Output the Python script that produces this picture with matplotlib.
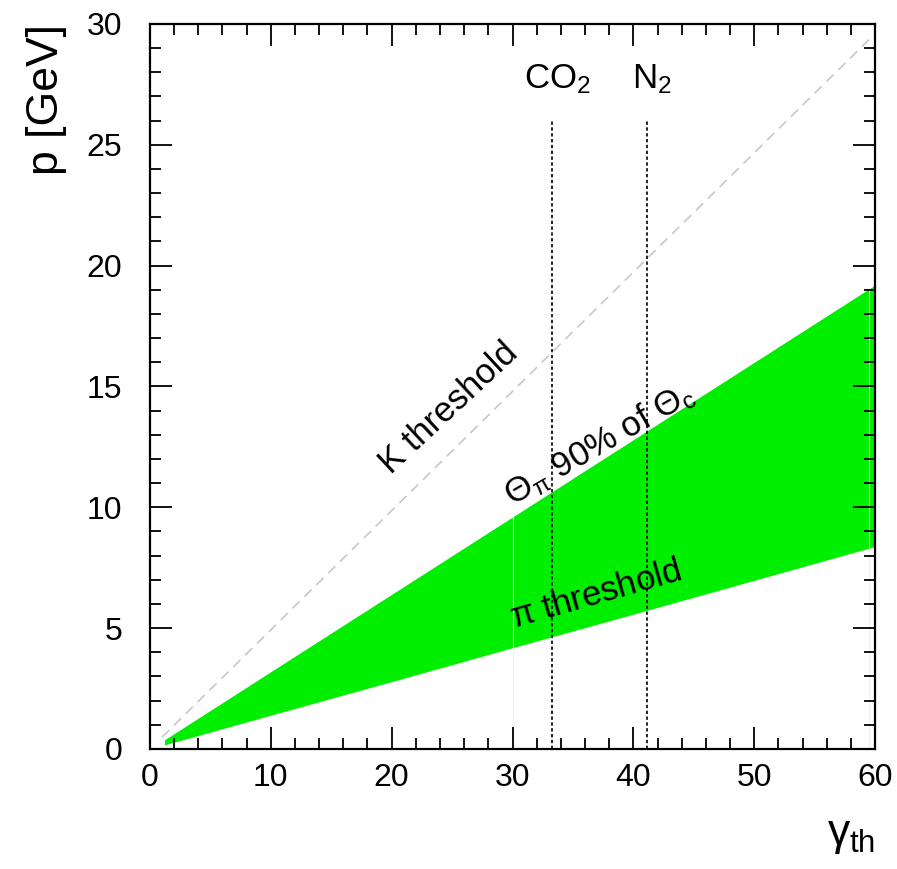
import numpy as np
import matplotlib.pyplot as plt
from matplotlib.ticker import MultipleLocator

plt.rcParams['font.family'] = ['Liberation Sans', 'DejaVu Sans']
plt.rcParams['mathtext.fontset'] = 'custom'
plt.rcParams['mathtext.rm'] = 'Liberation Sans'
plt.rcParams['mathtext.it'] = 'Liberation Sans'

# --- values ---
gamma = [1.2, 10, 20, 30, 40, 50, 60]
p_pi_thr = [0.17, 1.40, 2.79, 4.19, 5.58, 6.98, 8.38]      # lower edge of band
p_theta90 = [0.38, 3.20, 6.40, 9.60, 12.80, 16.00, 19.20]  # upper edge of band
gamma_k = [1.0, 60]
p_k_thr = [0.49, 29.6]
gas_names = ['CO$_2$', 'N$_2$']
gas_gamma = [33.3, 41.1]
gas_top = 26.0

fig = plt.figure(figsize=(8.97, 8.69), dpi=100)
ax = fig.add_axes([0.1672, 0.1381, 0.8083, 0.8343])

ax.fill_between(gamma, p_pi_thr, p_theta90, color='#00ee00', lw=0, zorder=1)
# faint seams in the band
for g in [30, 59.5]:
    ax.plot([g, g], [0, np.interp(g, gamma, p_theta90)], color='#e6f8e6', lw=0.8, zorder=1.5)

ax.plot(gamma_k, p_k_thr, color='#c8c8c8', ls=(0, (6, 4)), lw=1.2, zorder=2)

for name, g in zip(gas_names, gas_gamma):
    ax.plot([g, g], [0, gas_top], color='black', ls=(0, (2, 1.5)), lw=1.2, zorder=3)
    ax.text(g + 0.4, 27.0, name, fontsize=25, ha='center', va='bottom')

ax.text(24.7, 14.1, 'K threshold', fontsize=25, rotation=43,
        ha='center', va='center', rotation_mode='anchor')
ax.text(37.2, 12.6, r'$\Theta_{\pi}$ 90% of $\Theta_{\rm c}$', fontsize=25, rotation=30,
        ha='center', va='center', rotation_mode='anchor')
ax.text(36.9, 6.4, r'$\pi$ threshold', fontsize=25, rotation=16,
        ha='center', va='center', rotation_mode='anchor')

ax.set_xlim(0, 60)
ax.set_ylim(0, 30)
ax.xaxis.set_major_locator(MultipleLocator(10))
ax.xaxis.set_minor_locator(MultipleLocator(2))
ax.yaxis.set_major_locator(MultipleLocator(5))
ax.yaxis.set_minor_locator(MultipleLocator(1))
ax.tick_params(which='both', direction='in', top=True, right=True, width=1.3,
               labelsize=23)
ax.tick_params(axis='x', pad=10)
ax.tick_params(axis='y', pad=20)
ax.tick_params(which='major', length=16)
ax.tick_params(which='minor', length=8)
for s in ax.spines.values():
    s.set_linewidth(1.6)

ax.set_ylabel('p [GeV]', fontsize=32, loc='top', labelpad=14)
ax.set_xlabel(r'$\gamma_{\rm th}$', fontsize=32, loc='right', labelpad=16)

fig.savefig('out.png', dpi=100)
